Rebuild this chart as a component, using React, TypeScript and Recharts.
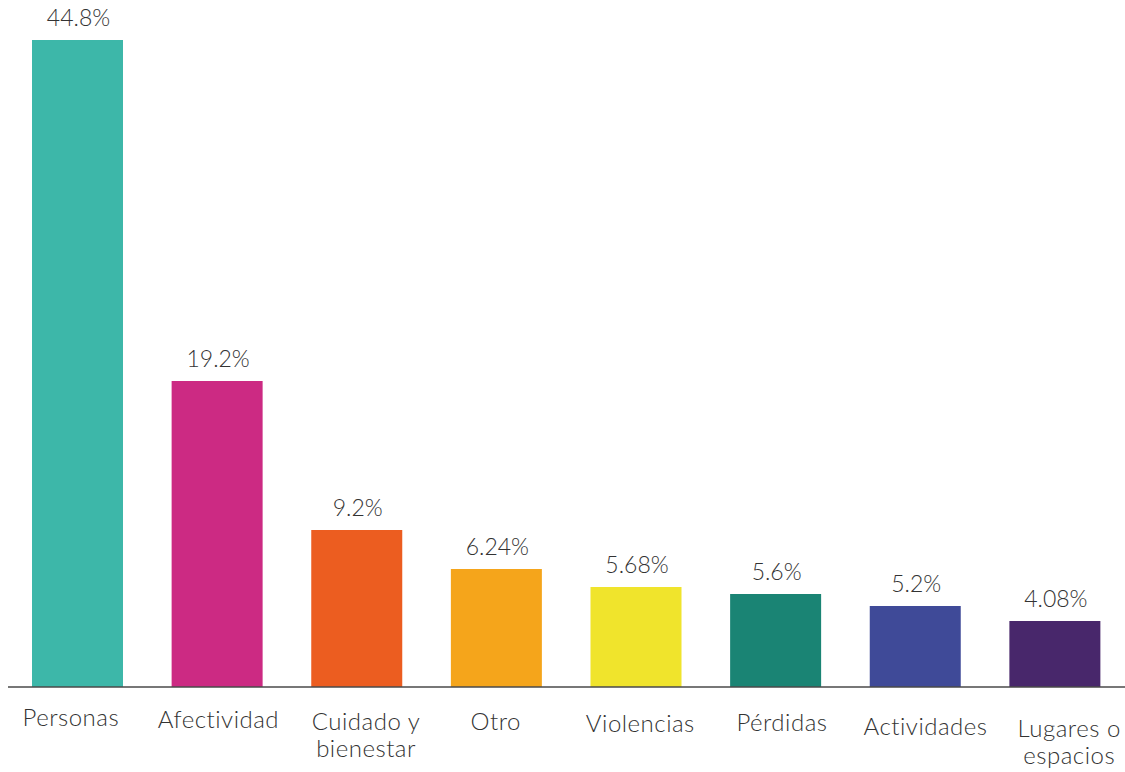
import { BarChart, Bar, XAxis, YAxis, Cell, LabelList } from "recharts"

// Share of mentions per theme (label values as printed)
const categories = [
  "Personas",
  "Afectividad",
  "Cuidado y\nbienestar",
  "Otro",
  "Violencias",
  "Pérdidas",
  "Actividades",
  "Lugares o\nespacios",
]
const shares = [44.8, 19.2, 9.2, 6.24, 5.68, 5.6, 5.2, 4.08]
// bar lengths as drawn in the infographic (same % units)
const barLengths = [44.8, 21.19, 10.87, 8.17, 6.92, 6.44, 5.61, 4.57]
const colors = ["#3db7a9", "#cc2a83", "#ec5d20", "#f5a51b", "#f0e42c", "#1a8474", "#3f4a98", "#48276b"]

const data = categories.map((name, i) => ({
  name,
  share: shares[i],
  length: barLengths[i],
}))

// small hand nudges of the category labels, as in the original layout
const tickNudge = [
  [-7, 0],
  [1, 2],
  [9, 4],
  [-1, 4],
  [4, 6],
  [6, 5],
  [10, 9],
  [14, 11],
]

const FONT = "Lato, 'Open Sans', sans-serif"

function CategoryTick(props: any) {
  const { x, y, payload, index } = props
  const [dx, dy] = tickNudge[index] || [0, 0]
  const lines = String(payload.value).split("\n")
  return (
    <text
      x={x + dx}
      y={y + 39 + dy}
      textAnchor="middle"
      fill="#333"
      fontSize={24}
      fontWeight={300}
      fontFamily={FONT}
      letterSpacing={0.5}
    >
      {lines.map((line, i) => (
        <tspan key={i} x={x + dx} dy={i === 0 ? 0 : 27}>
          {line}
        </tspan>
      ))}
    </text>
  )
}

function ValueLabel(props: any) {
  const { x, y, width, index } = props
  return (
    <text
      x={x + width / 2 + 1}
      y={y - 14}
      textAnchor="middle"
      fill="#333"
      fontSize={23}
      fontWeight={300}
      fontFamily={FONT}
    >
      {`${shares[index]}%`}
    </text>
  )
}

export default function App() {
  return (
    <div style={{ position: "absolute", left: 0, top: 0, width: 1125, height: 772, overflow: "hidden", background: "#fff" }}>
      <BarChart width={1125} height={772} data={data} margin={{ top: 40, right: 0, left: 8, bottom: 0 }}>
        <XAxis
          dataKey="name"
          height={85}
          interval={0}
          tickLine={false}
          tickSize={0}
          tickMargin={0}
          axisLine={{ stroke: "#4a4a4a", strokeWidth: 1.5 }}
          tick={<CategoryTick />}
        />
        <YAxis hide domain={[0, 44.8]} />
        <Bar dataKey="length" barSize={91} isAnimationActive={false}>
          {data.map((d, i) => (
            <Cell key={d.name} fill={colors[i]} />
          ))}
          <LabelList dataKey="share" content={<ValueLabel />} />
        </Bar>
      </BarChart>
    </div>
  )
}
